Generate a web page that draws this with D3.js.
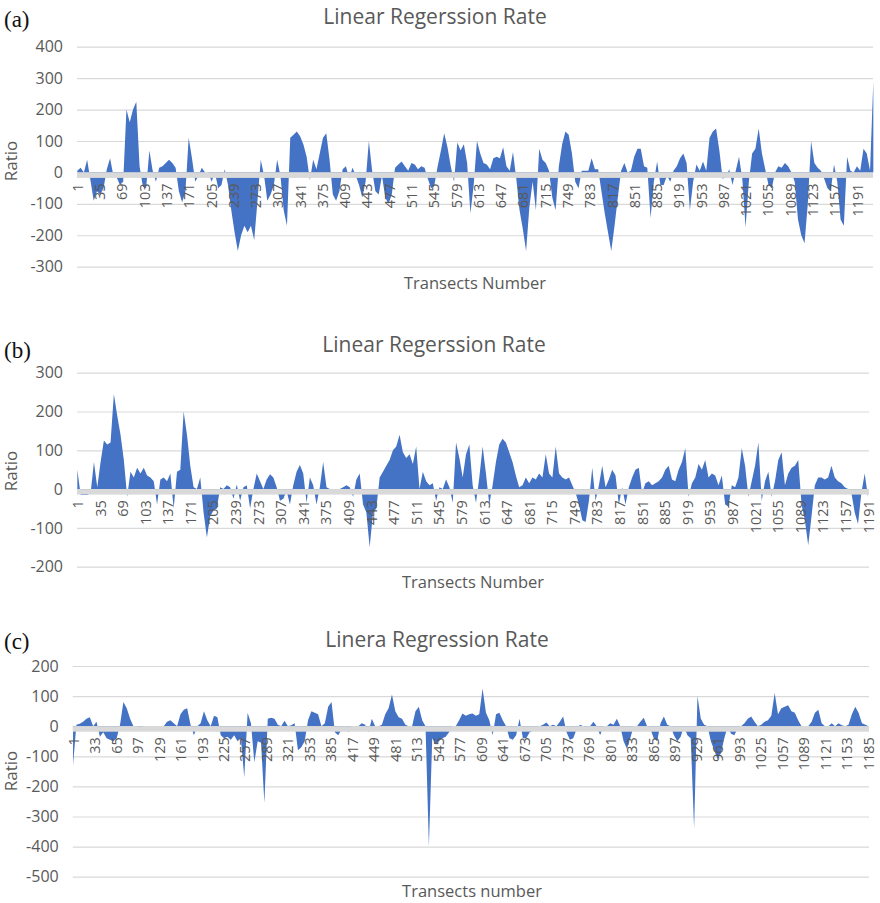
<!DOCTYPE html>
<html>
<head>
<meta charset="utf-8">
<script src="https://cdn.jsdelivr.net/npm/d3@7"></script>
<style>
  body { margin: 0; background: #fff; }
  svg { display: block; font-family: "Open Sans", "Segoe UI", sans-serif; }
  .grid line { stroke: #d9d9d9; stroke-width: 1.2; }
  .grid .domain, .axis .domain, .axis line { display: none; }
  .axis text { fill: #595959; font-family: "Open Sans", sans-serif; }
  .title { fill: #595959; font-size: 21px; text-anchor: middle; }
  .axis-title { fill: #595959; font-size: 16.5px; text-anchor: middle; }
  .tag { fill: #111; font-family: "Liberation Serif", "Times New Roman", serif; font-size: 23px; }
</style>
</head>
<body>
<svg id="chart" width="880" height="903"></svg>
<script>
// one reading every 5 transects, starting at transect 1
const step = 5

const valuesA = [
  5, 15, 0, 40, -25, -90, -60, -70, -50, 10, 45, -10, -15, -40, -30, 200, 160, 200, 225, 20,
  -45, -50, 70, 5, -30, 15, 20, 30, 40, 30, 15, -60, -95, -60, 110, 45, -30, -10, 15, 0,
  0, -30, 0, -50, -40, 10, -40, -120, -190, -250, -200, -170, -190, -170, -215, -90, 40, -10, -90, -70,
  -40, 40, -10, -120, -170, 110, 120, 130, 115, 90, 50, -25, 40, 10, 60, 110, 125, 40, -70, -90,
  -60, 10, 20, -20, 15, -10, -40, -80, -30, 100, 5, -60, -70, -10, -80, -100, -70, 15, 25, 35,
  20, 5, 30, 25, 10, 20, 15, -20, -50, -40, 20, 70, 125, 80, 20, -30, 95, 70, 90, 30,
  -130, -40, 100, 60, 30, 25, 10, 45, 50, 45, 80, 20, 5, 65, -20, -120, -180, -250, -110, -30,
  -120, 75, 40, 30, 5, -80, -120, 20, 90, 130, 120, 60, -30, -50, 5, 5, 5, 45, 10, 10,
  -60, -130, -190, -250, -170, -80, 5, 30, 0, 5, 50, 75, 75, 20, 15, -145, -30, 35, -40, -40,
  -10, -30, 5, 20, 45, 60, 30, -120, -30, 25, 5, 35, 5, 110, 130, 140, 70, -20, -15, 10,
  -40, 5, 50, -20, -175, -30, 60, 75, 140, 60, 10, -40, -50, 0, 20, 15, 30, 20, 0, -30,
  -150, -200, -225, -100, 100, 30, 15, 5, -20, -50, -60, 25, -30, -150, -170, 50, 5, 0, 20, 5,
  75, 60, 5, 290
]

const valuesB = [
  50, -15, -15, -15, -10, 70, 5, 70, 125, 115, 120, 245, 190, 140, 75, -20, 45, 30, 55, 40,
  55, 35, 30, 20, -40, 25, 30, 20, 40, -50, 45, 50, 200, 140, 60, 5, 0, 30, -60, -125,
  -70, -55, -50, 5, 0, 10, 5, -25, 12, -30, 5, 10, -50, 0, 40, 20, 0, 25, 38, 30,
  5, -30, -25, -5, -40, 10, 45, 62, 40, -35, 30, 10, -40, 5, 70, 5, 0, 0, 0, 0,
  5, 10, 5, -20, 25, 40, -40, -60, -150, -60, -50, 30, 45, 60, 75, 100, 110, 140, 95, 80,
  90, 65, 110, 0, 45, 20, 10, 15, -30, 5, 0, 25, 5, -35, 120, 80, 30, 90, 115, 10,
  -35, 30, 110, 40, -40, 10, 70, 115, 130, 120, 95, 70, 35, 5, 10, 30, 15, 30, 25, 40,
  30, 90, 40, 30, 110, 40, 30, 25, 30, 10, -10, -40, -80, -85, -30, 55, -30, 10, 60, 5,
  25, 50, 35, -40, 5, -40, 5, 30, 50, 55, -10, 15, 20, 10, 15, 20, 30, 50, 60, 25,
  20, 50, 70, 105, -20, 15, 30, 65, 50, 75, 30, 40, 35, 10, 35, -40, -45, 10, 5, 30,
  105, 60, -20, 20, 60, 120, -30, 20, 45, -20, 20, 75, 95, 10, 40, 55, 60, 75, -40, -80,
  -145, -70, 10, 30, 30, 25, 30, 60, 30, 20, 15, 5, 0, -10, -60, -90, -10, 40, -20
]

const valuesC = [
  -130, 5, 8, 15, 25, 30, 0, 15, -35, -20, -40, -45, -50, -40, 5, 80, 60, 25, 0, 0,
  -15, 0, 0, 0, 0, 0, 0, 0, 15, 20, 10, 0, 40, 55, 60, 5, -30, 0, 10, 50,
  20, 0, 35, 30, -30, -40, -35, -45, -30, -50, -40, -170, 45, 10, -120, -50, -55, -255, 25, 28,
  25, 5, 0, 18, 0, 3, 10, -80, -70, -50, 20, 50, 45, 40, 0, 10, 65, 80, -20, -30,
  -10, 0, -20, 0, 0, 0, 10, 5, -20, 25, 0, 0, 5, 40, 60, 105, 50, 30, 25, 5,
  0, 0, 50, 65, 20, 0, -400, -40, -60, -50, -40, -35, -20, 0, 0, 20, 42, 35, 40, 42,
  35, 40, 125, 45, 20, -30, 40, 45, 20, 0, -40, -45, -30, 25, -40, -40, -20, -15, -5, 0,
  5, 12, 0, 5, 0, 15, 32, -20, -45, -40, -10, 5, 0, -10, 0, 15, 0, -30, 0, 0,
  10, 5, 25, 0, -50, -75, -40, 0, 0, 15, 28, 0, -10, -40, -50, 10, 32, 5, 0, -30,
  -50, -35, 0, -30, -40, -340, 100, 25, 5, 0, -50, -80, -110, -90, -40, 0, -25, -30, -5, 0,
  10, 25, 32, 15, 0, 5, 15, 20, 35, 110, 40, 60, 65, 70, 50, 45, 20, 0, 0, 0,
  15, 45, 55, 10, 0, 0, 10, 0, 10, 3, 0, 5, 40, 65, 45, 10, 5, 0
]

const yTicksA = [-300, -200, -100, 0, 100, 200, 300, 400]
const yTicksB = [-200, -100, 0, 100, 200, 300]
const yTicksC = [-500, -400, -300, -200, -100, 0, 100, 200]

const xTicksAB = [1, 35, 69, 103, 137, 171, 205, 239, 273, 307, 341, 375, 409, 443, 477, 511, 545, 579,
  613, 647, 681, 715, 749, 783, 817, 851, 885, 919, 953, 987, 1021, 1055, 1089, 1123, 1157, 1191]
const xTicksC = [1, 33, 65, 97, 129, 161, 193, 225, 257, 289, 321, 353, 385, 417, 449, 481, 513, 545, 577,
  609, 641, 673, 705, 737, 769, 801, 833, 865, 897, 929, 961, 993, 1025, 1057, 1089, 1121, 1153, 1185]

const panels = [
  { tag: "(a)", tagY: 27, title: "Linear Regerssion Rate", titleX: 435, titleY: 24,
    xTitle: "Transects Number", xTitleX: 475, xTitleY: 289, ratioY: 161,
    left: 77, right: 873, top: 46.7, bottom: 266.7, count: 1215,
    values: valuesA, yTicks: yTicksA, xTicks: xTicksAB },
  { tag: "(b)", tagY: 358, title: "Linear Regerssion Rate", titleX: 434, titleY: 352,
    xTitle: "Transects Number", xTitleX: 473, xTitleY: 588, ratioY: 471,
    left: 77, right: 869, top: 372.7, bottom: 566.7, count: 1192,
    values: valuesB, yTicks: yTicksB, xTicks: xTicksAB },
  { tag: "(c)", tagY: 649, title: "Linera Regression Rate", titleX: 437, titleY: 647,
    xTitle: "Transects number", xTitleX: 472, xTitleY: 897, ratioY: 771,
    left: 72.7, right: 869, top: 666, bottom: 876.7, count: 1186,
    values: valuesC, yTicks: yTicksC, xTicks: xTicksC }
]

const svg = d3.select("#chart")
const plain = d => String(d)   // excel style: no thousands comma, ascii minus

function drawPanel(p) {
  const yMin = d3.min(p.yTicks), yMax = d3.max(p.yTicks)
  const x = d3.scaleLinear().domain([0.5, p.count + 0.5]).range([p.left, p.right])
  const y = d3.scaleLinear().domain([yMin, yMax]).range([p.bottom, p.top])
  const g = svg.append("g")

  // gridlines
  g.append("g")
    .attr("class", "grid")
    .attr("transform", "translate(" + p.left + ",0)")
    .call(d3.axisLeft(y).tickValues(p.yTicks).tickSize(-(p.right - p.left)).tickFormat(""))

  const area = d3.area()
    .x((d, i) => x(1 + step * i))
    .y0(y(0))
    .y1(d => y(d))

  g.append("path")
    .datum(p.values)
    .attr("fill", "#4472c4")
    .attr("d", area)

  // thick grey category axis line
  g.append("rect")
    .attr("x", p.left)
    .attr("y", y(0))
    .attr("width", p.right - p.left)
    .attr("height", 5.5)
    .attr("fill", "#d9d9d9")

  g.append("g")
    .attr("class", "axis")
    .attr("transform", "translate(" + p.left + ",0)")
    .call(d3.axisLeft(y).tickValues(p.yTicks).tickSize(0).tickPadding(14).tickFormat(plain))
    .selectAll("text")
    .attr("font-size", 16)

  g.append("g")
    .attr("class", "axis")
    .attr("transform", "translate(0," + (y(0) + 11) + ")")
    .call(d3.axisBottom(x).tickValues(p.xTicks).tickSize(0).tickFormat(plain))
    .selectAll("text")
    .attr("x", 0)
    .attr("y", 0)
    .attr("dy", "0.35em")
    .attr("transform", "rotate(-90)")
    .attr("text-anchor", "end")
    .attr("font-size", 14.5)

  g.append("text").attr("class", "title")
    .attr("x", p.titleX).attr("y", p.titleY)
    .text(p.title)

  g.append("text").attr("class", "axis-title")
    .attr("x", p.xTitleX).attr("y", p.xTitleY)
    .text(p.xTitle)

  g.append("text").attr("class", "axis-title")
    .attr("transform", "translate(17," + p.ratioY + ") rotate(-90)")
    .style("font-size", "17px")
    .text("Ratio")

  g.append("text").attr("class", "tag")
    .attr("x", 4).attr("y", p.tagY)
    .text(p.tag)
}

panels.forEach(drawPanel)
</script>
</body>
</html>
